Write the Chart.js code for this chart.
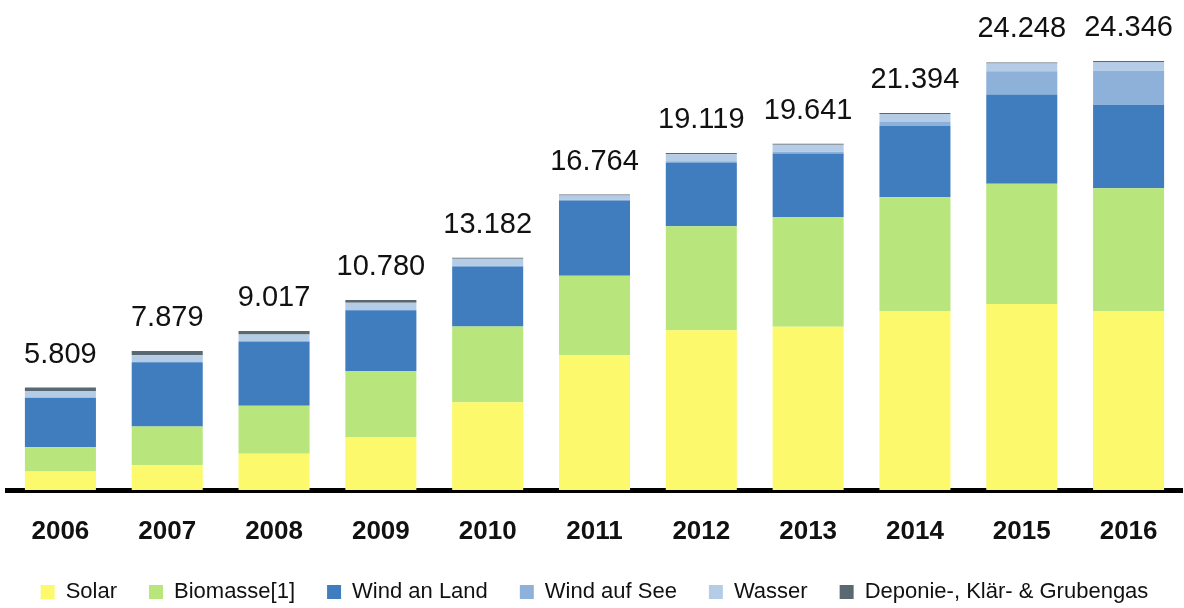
<!DOCTYPE html>
<html>
<head>
<meta charset="utf-8">
<script src="https://cdn.jsdelivr.net/npm/chart.js@4"></script>
<style>
  html, body { margin: 0; padding: 0; background: #fff; }
  #wrap { width: 1184px; height: 608px; }
</style>
</head>
<body>
<div id="wrap"><canvas id="myChart"></canvas></div>
<script>
// years on the x axis
const years = ["2006", "2007", "2008", "2009", "2010", "2011", "2012", "2013", "2014", "2015", "2016"];

// series values
const solar    = [1050, 1400, 2050, 3010, 4980, 7650, 9060, 9260, 10150, 10550, 10160];
const biomasse = [1380, 2200, 2730, 3740, 4300, 4500, 5900, 6230, 6450, 6820, 6960];
const windLand = [2800, 3650, 3640, 3440, 3400, 4270, 3620, 3600, 4050, 5070, 4730];
const windSee  = [0, 0, 0, 10, 40, 40, 70, 100, 250, 1310, 1930];
const wasser   = [380, 400, 400, 420, 400, 250, 400, 400, 430, 440, 500];
const deponie  = [200, 230, 200, 160, 60, 50, 70, 50, 60, 60, 60];

// totals printed above the bars
const totals = [5809, 7879, 9017, 10780, 13182, 16764, 19119, 19641, 21394, 24248, 24346];

const FONT = "'Liberation Sans', Arial, sans-serif";

// draws the total above each stack
const totalLabels = {
	id: "totalLabels",
	afterDatasetsDraw(chart) {
		const ctx = chart.ctx;
		const y = chart.scales.y;
		const x = chart.scales.x;
		ctx.save();
		ctx.font = "29px " + FONT;
		ctx.fillStyle = "#111";
		ctx.textAlign = "center";
		ctx.textBaseline = "alphabetic";
		totals.forEach((t, i) => {
			let sum = 0;
			chart.data.datasets.forEach(ds => { sum += ds.data[i]; });
			const top = y.getPixelForValue(sum);
			ctx.fillText(t.toLocaleString("de-DE"), x.getPixelForValue(i), top - 25);
		});
		ctx.restore();
	},
};

new Chart(document.getElementById("myChart"), {
	type: "bar",
	data: {
		labels: years,
		datasets: [
			{ label: "Solar", data: solar, backgroundColor: "#FDF96C" },
			{ label: "Biomasse[1]", data: biomasse, backgroundColor: "#B8E67C" },
			{ label: "Wind an Land", data: windLand, backgroundColor: "#3F7DBF" },
			{ label: "Wind auf See", data: windSee, backgroundColor: "#8EB1DA" },
			{ label: "Wasser", data: wasser, backgroundColor: "#B4CCE6" },
			{ label: "Deponie-, Klär- & Grubengas", data: deponie, backgroundColor: "#5A6872" },
		],
	},
	options: {
		responsive: true,
		maintainAspectRatio: false,
		animation: false,
		layout: {
			padding: { top: 14, left: 7, right: 2, bottom: -5 },
		},
		datasets: {
			bar: {
				categoryPercentage: 1,
				barPercentage: 0.665,
				borderWidth: 0,
			},
		},
		scales: {
			x: {
				stacked: true,
				grid: { display: false, drawTicks: false },
				border: { display: true, color: "#000", width: 5 },
				ticks: {
					color: "#111",
					padding: 26,
					font: { family: FONT, size: 26, weight: "bold" },
				},
				afterFit(scale) {
					scale.height = 59;
				},
			},
			y: {
				stacked: true,
				display: false,
				min: 0,
				max: 27000,
			},
		},
		plugins: {
			legend: {
				position: "bottom",
				labels: {
					boxWidth: 14,
					boxHeight: 14,
					padding: 32,
					color: "#111",
					font: { family: FONT, size: 22 },
				},
			},
			tooltip: { enabled: false },
		},
	},
	plugins: [totalLabels],
});
</script>
</body>
</html>
